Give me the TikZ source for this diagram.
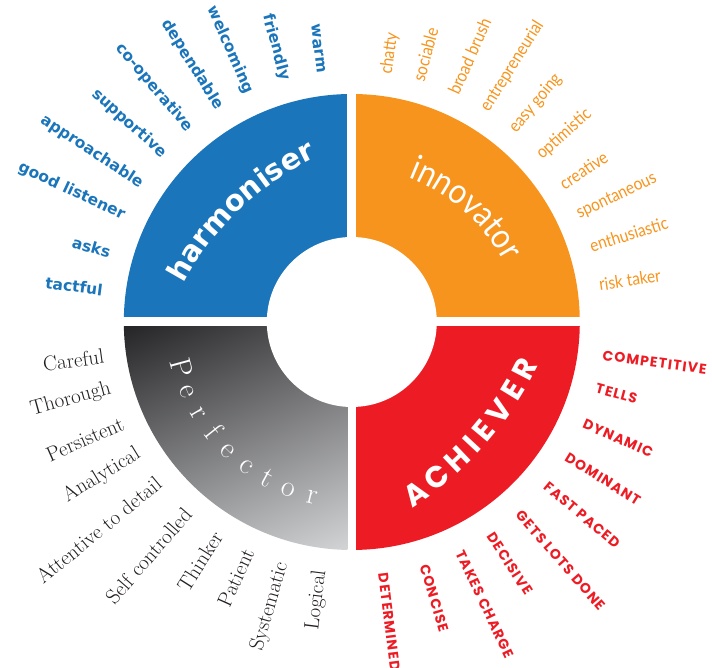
\documentclass[tikz,border=0pt]{standalone}
\usepackage{fontspec}
\usetikzlibrary{calc,decorations.text,shadings}
\definecolor{hblue}{HTML}{1B75BB}
\definecolor{iorange}{HTML}{F7941D}
\definecolor{ared}{HTML}{ED1C24}
\definecolor{pblack}{HTML}{231F20}
\definecolor{gUL}{HTML}{252527}
\definecolor{gUR}{HTML}{5A5A5D}
\definecolor{gLL}{HTML}{A0A1A3}
\definecolor{gLR}{HTML}{D3D4D6}
\newfontfamily\hfont{DejaVu Sans}
\newfontfamily\ifont{Lato}[FakeStretch=0.88]
\newfontfamily\afont{Poppins}[LetterSpace=8]
\newfontfamily\abigfont{Poppins}
\tikzset{
 hword/.style={text=hblue, font=\hfont\bfseries\fontsize{15.5}{15.5}\selectfont, inner sep=0pt, anchor=east},
 iword/.style={text=iorange, font=\ifont\fontsize{17.5}{17.5}\selectfont, inner sep=0pt, anchor=west},
 pword/.style={text=pblack, font=\fontsize{21}{21}\selectfont, inner sep=0pt, anchor=east},
 aword/.style={text=ared, font=\afont\bfseries\fontsize{14}{14}\selectfont, inner sep=0pt, anchor=west},
 pletter/.style={text=white, font=\fontsize{30}{30}\selectfont, inner sep=0pt, anchor=base},
 aletter/.style={text=white, font=\abigfont\bfseries\fontsize{30}{30}\selectfont, inner sep=0pt, anchor=base},
}
\begin{document}
\begin{tikzpicture}[x=1pt,y=1pt]
\useasboundingbox (0,0) rectangle (712,668);
\begin{scope}[shift={(351.8,346)}]
 \begin{scope}
  \clip (0,0) circle[radius=228];
  \fill[hblue] (-230,4.5) rectangle (-4.5,230);
  \fill[iorange] (4.5,4.5) rectangle (230,230);
  \fill[ared] (4.5,-4.5) rectangle (230,-230);
  \shade[upper left=gUL, upper right=gUR, lower left=gLL, lower right=gLR] (-228,-228) rectangle (-4.5,-4.5);
 \end{scope}
 \fill[white] (0,0) circle[radius=85];
 % words
 \foreach \myw/\myang [count=\k] in {warm/97, friendly/105.4, welcoming/114.1, dependable/121.8, co-operative/130.1, supportive/138.3, approachable/146.8, good listener/155.0, asks/164, tactful/172.7}
   \node[hword, rotate=\myang-180] (hw\k) at (\myang:251) {\myw};
 \foreach \myw/\myang [count=\k] in {chatty/82, sociable/74.6, broad brush/66.1, entrepreneurial/57.9, easy going/50, optimistic/41.5, creative/33.2, spontaneous/25.4, enthusiastic/17.6, risk taker/8.6}
   \node[iword, rotate=\myang] (iw\k) at (\myang:250) {\myw};
 \foreach \myw/\myang [count=\k] in {Careful/187.8, Thorough/195.4, Persistent/203.7, Analytical/211.5, Attentive to detail/219.4, Self controlled/229, Thinker/237.6, Patient/245.6, Systematic/253.9, Logical/262.8}
   \node[pword, rotate=\myang-180] (pw\k) at (\myang:250) {\myw};
 \foreach \myw/\myang [count=\k] in {COMPETITIVE/-7.6, TELLS/-15.1, DYNAMIC/-23.6, DOMINANT/-32, FAST PACED/-40, GETS LOTS DONE/-48.8, DECISIVE/-56.8, TAKES CHARGE/-64.8, CONCISE/-73.4, DETERMINED/-82.9}
   \node[aword, rotate=\myang] (aw\k) at (\myang:253) {\myw};
 % titles
 \path[decorate, decoration={text along path, text={|\hfont\bfseries\fontsize{29}{29}\selectfont|harmoniser}, text align=center, text color=white}] ($(85,-95)+(173.6:286)$) arc[start angle=173.6, end angle=93.6, radius=286];
 \path[decorate, decoration={text along path, text={|\ifont\fontsize{35}{35}\selectfont|innovator}, text align=center, text color=white}] ($(-12,-30)+(88.65:187.5)$) arc[start angle=88.65, end angle=8.65, radius=187.5];
 \foreach \myl [count=\k] in {P,e,r,f,e,c,t,o,r} {
   \pgfmathsetmacro\myang{195.1+(\k-1)*7.75}
   \node[pletter, rotate=\myang+90] (pl\k) at (\myang:186) {\myl};
 }
 \foreach \myl/\myang [count=\k] in {A/-55.5, C/-50.97, H/-46.42, I/-42.92, E/-39.81, V/-35.66, E/-31.5, R/-27.46}
   \node[aletter, rotate=\myang+90] (al\k) at ($(-130,110)+(\myang:352)$) {\myl};
\end{scope}
\end{tikzpicture}
\end{document}
